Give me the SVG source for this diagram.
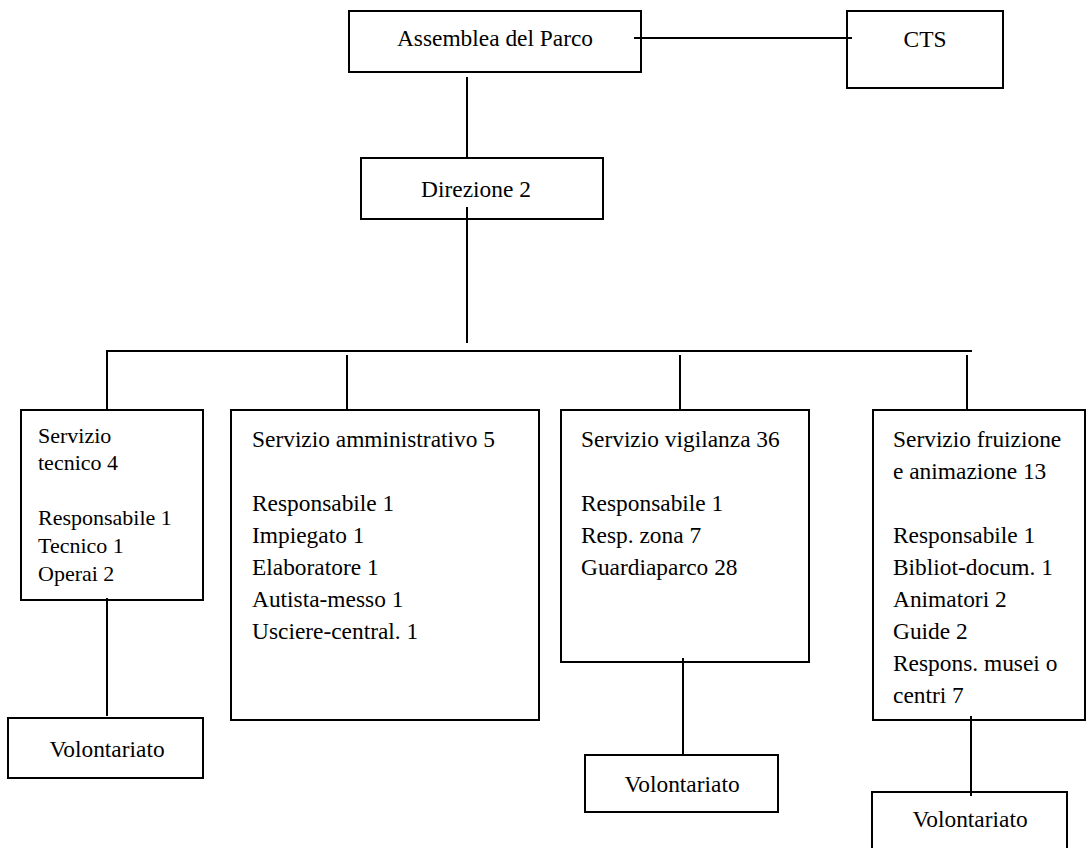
<svg xmlns="http://www.w3.org/2000/svg" width="1087" height="848" viewBox="0 0 1087 848">
<style>
.box{fill:#fff;stroke:#000;stroke-width:2}
.ln{stroke:#000;stroke-width:2;fill:none}
text{font-family:"Liberation Serif","Times New Roman",serif;font-size:23.4px;fill:#000}
.c{text-anchor:middle}
.sm{font-size:22px}
</style>
<rect width="1087" height="848" fill="#fff"/>
<g id="assemblea">
<rect class="box" x="349" y="11" width="292" height="61"/>
<text class="c" x="495" y="46">Assemblea del Parco</text>
</g>
<g id="cts">
<rect class="box" x="847" y="11" width="156" height="77"/>
<text class="c" x="925" y="47">CTS</text>
</g>
<g id="direzione">
<rect class="box" x="361" y="158" width="242" height="61"/>
<text class="c" x="476" y="197">Direzione 2</text>
</g>
<g id="tecnico">
<rect class="box" x="21" y="410" width="182" height="190"/>
<text class="sm" x="38" y="443">Servizio</text>
<text class="sm" x="38" y="470">tecnico 4</text>
<text class="sm" x="38" y="525">Responsabile 1</text>
<text class="sm" x="38" y="553">Tecnico 1</text>
<text class="sm" x="38" y="581">Operai 2</text>
</g>
<g id="amministrativo">
<rect class="box" x="231" y="410" width="308" height="310"/>
<text x="252" y="447">Servizio amministrativo 5</text>
<text x="252" y="511">Responsabile 1</text>
<text x="252" y="543">Impiegato 1</text>
<text x="252" y="575">Elaboratore 1</text>
<text x="252" y="607">Autista-messo 1</text>
<text x="252" y="639">Usciere-central. 1</text>
</g>
<g id="vigilanza">
<rect class="box" x="561" y="410" width="248" height="252"/>
<text x="581" y="447">Servizio vigilanza 36</text>
<text x="581" y="511">Responsabile 1</text>
<text x="581" y="543">Resp. zona 7</text>
<text x="581" y="575">Guardiaparco 28</text>
</g>
<g id="fruizione">
<rect class="box" x="873" y="410" width="212" height="310"/>
<text x="893" y="447">Servizio fruizione</text>
<text x="893" y="479">e animazione 13</text>
<text x="893" y="543">Responsabile 1</text>
<text x="893" y="575">Bibliot-docum. 1</text>
<text x="893" y="607">Animatori 2</text>
<text x="893" y="639">Guide 2</text>
<text x="893" y="671">Respons. musei o</text>
<text x="893" y="703">centri 7</text>
</g>
<g id="volontariato1">
<rect class="box" x="8" y="718" width="195" height="60"/>
<text class="c" x="107" y="757">Volontariato</text>
</g>
<g id="volontariato2">
<rect class="box" x="585" y="755" width="193" height="57"/>
<text class="c" x="682" y="792">Volontariato</text>
</g>
<g id="volontariato3">
<rect class="box" x="872" y="792" width="195" height="62"/>
<text class="c" x="970" y="827">Volontariato</text>
</g>
<g id="connectors">
<line class="ln" x1="634" y1="38" x2="852" y2="38"/>
<line class="ln" x1="467" y1="77" x2="467" y2="158"/>
<line class="ln" x1="467" y1="207" x2="467" y2="343"/>
<polyline class="ln" points="107,410 107,351 972,351"/>
<line class="ln" x1="347" y1="355" x2="347" y2="410"/>
<line class="ln" x1="680" y1="355" x2="680" y2="410"/>
<line class="ln" x1="967" y1="355" x2="967" y2="410"/>
<line class="ln" x1="107" y1="598" x2="107" y2="716"/>
<line class="ln" x1="683" y1="658" x2="683" y2="755"/>
<line class="ln" x1="971" y1="716" x2="971" y2="796"/>
</g>
</svg>
